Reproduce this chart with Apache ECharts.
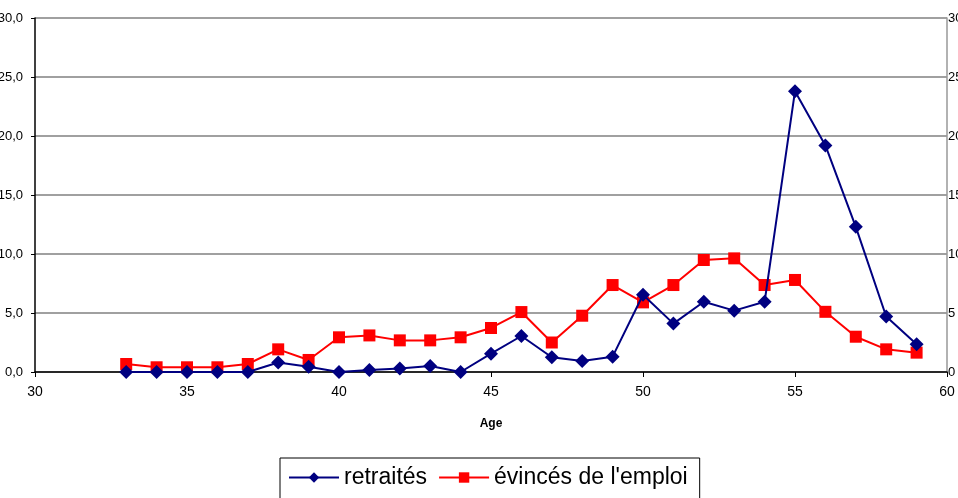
<!DOCTYPE html>
<html>
<head>
<meta charset="utf-8">
<script src="https://cdn.jsdelivr.net/npm/echarts@6/dist/echarts.min.js"></script>
<style>
html,body{margin:0;padding:0;background:#fff;}
#c{width:958px;height:498px;}
</style>
</head>
<body>
<div id="c"></div>
<script>
const ages = [33,34,35,36,37,38,39,40,41,42,43,44,45,46,47,48,49,50,51,52,53,54,55,56,57,58,59];
const retraites = [0,0,0,0,0,0.8,0.45,0,0.17,0.3,0.5,0,1.55,3.05,1.25,0.93,1.3,6.55,4.1,5.95,5.2,5.95,23.8,19.2,12.3,4.7,2.35];
const evinces = [0.68,0.4,0.4,0.4,0.68,1.92,1.02,2.94,3.1,2.68,2.68,2.94,3.73,5.08,2.5,4.77,7.37,5.9,7.37,9.49,9.63,7.37,7.8,5.1,2.99,1.92,1.64];
const seriesNames = ['retraités', "évincés de l'emploi"];
const xName = 'Age';

const chart = echarts.init(document.getElementById('c'), null, {renderer:'canvas'});
const font = 'Liberation Sans, Arial, sans-serif';
chart.setOption({
  animation:false,
  backgroundColor:'#fff',
  textStyle:{fontFamily:font},
  grid:{left:35,right:11,top:18,bottom:126,containLabel:false,outerBoundsMode:'none'},
  xAxis:{
    type:'value',min:30,max:60,interval:5,
    name:xName,nameLocation:'middle',nameGap:46,
    nameTextStyle:{fontFamily:font,fontWeight:'bold',fontSize:12,color:'#000'},
    axisLine:{show:true,lineStyle:{color:'#000',width:1.5}},
    axisTick:{show:true,length:5,lineStyle:{color:'#000'}},
    axisLabel:{fontFamily:font,fontSize:14,color:'#000',margin:13},
    splitLine:{show:false}
  },
  yAxis:[{
    type:'value',min:0,max:30,interval:5,position:'left',
    axisLine:{show:true,lineStyle:{color:'#000',width:1.5}},
    axisTick:{show:true,length:4,lineStyle:{color:'#000'}},
    axisLabel:{fontFamily:font,fontSize:13,color:'#000',margin:12,
      formatter:v=>v.toFixed(1).replace('.',',')},
    splitLine:{show:true,lineStyle:{color:'#808080',width:1.5}}
  },{
    type:'value',min:0,max:30,interval:5,position:'right',
    axisLine:{show:true,lineStyle:{color:'#999',width:1.5}},
    axisTick:{show:false},
    axisLabel:{fontFamily:font,fontSize:13,color:'#000',margin:1},
    splitLine:{show:false}
  }],
  legend:{
    left:280,top:458,
    padding:[8,12,30,8],
    borderColor:'#000',borderWidth:1,
    itemWidth:50,itemHeight:13,itemGap:11,
    textStyle:{fontFamily:font,fontSize:23,color:'#000'},
    data:seriesNames
  },
  series:[{
    name:seriesNames[0],type:'line',
    data:ages.map((a,i)=>[a,retraites[i]]),
    symbol:'diamond',symbolSize:[14,14],
    itemStyle:{color:'#000080'},
    lineStyle:{color:'#000080',width:2},
    z:3
  },{
    name:seriesNames[1],type:'line',
    data:ages.map((a,i)=>[a,evinces[i]]),
    symbol:'rect',symbolSize:[12,12],
    itemStyle:{color:'#ff0000'},
    lineStyle:{color:'#ff0000',width:2},
    z:2
  }]
});
</script>
</body>
</html>
